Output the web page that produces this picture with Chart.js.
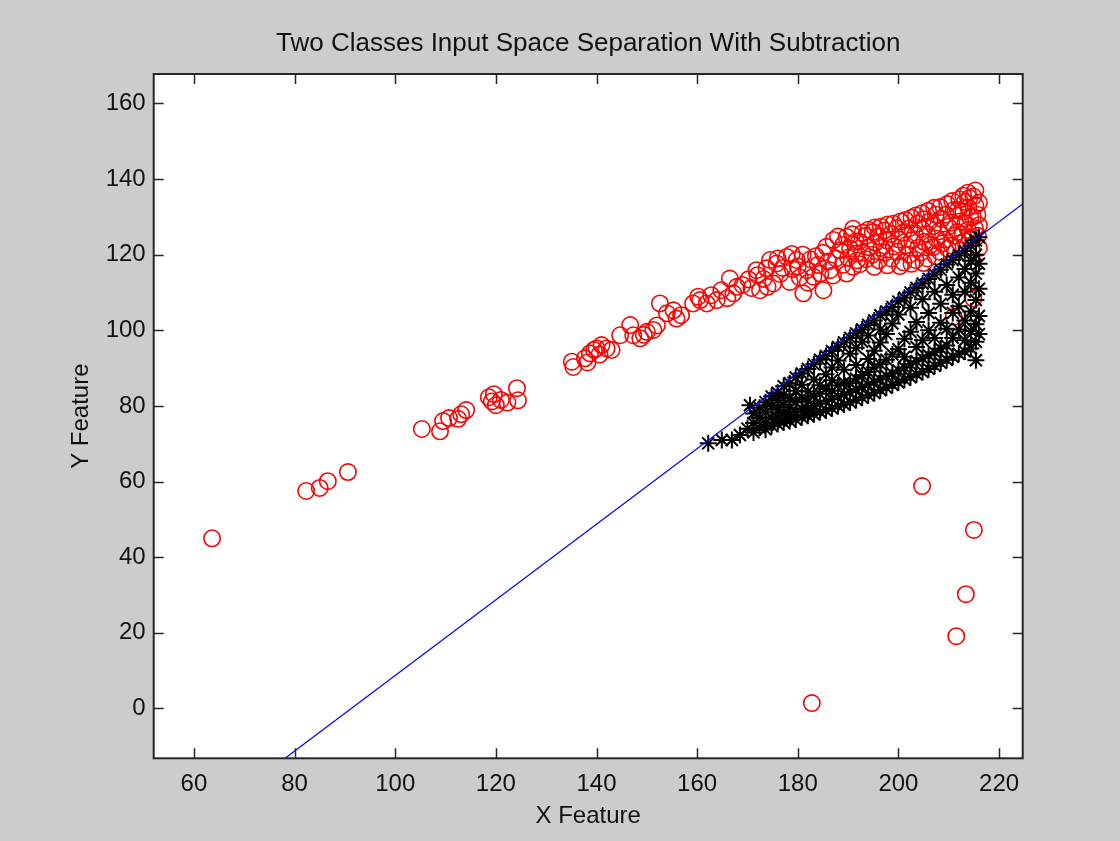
<!DOCTYPE html>
<html>
<head>
<meta charset="utf-8">
<title>Two Classes Input Space Separation With Subtraction</title>
<script src="https://cdn.jsdelivr.net/npm/chart.js@4.4.1/dist/chart.umd.min.js"></script>
<style>
  html, body { margin: 0; padding: 0; background: #cccccc; }
  #wrap { width: 1120px; height: 841px; }
</style>
</head>
<body>
<div id="wrap"><canvas id="plot" width="1120" height="841"></canvas></div>
<script>
// Axis ticks and limits
const xTicks = [60, 80, 100, 120, 140, 160, 180, 200, 220];
const yTicks = [0, 20, 40, 60, 80, 100, 120, 140, 160];
const xLimits = [52, 224.7];
const yLimits = [-13.2, 167.8];

// Separating line (subtraction boundary), endpoints at the axes edges
const boundaryX = [78.1, 224.7];
const boundaryY = [-13.2, 133.4];

// Class 1 samples (red circles), [x, y]
const classOne = [
  [63.6,45.0],[82.3,57.5],[85.0,58.3],[86.6,60.1],[90.6,62.5],
  [105.3,73.9],[108.9,73.3],[109.5,76.0],[110.7,76.8],[112.5,76.6],[113.1,77.8],[114.1,78.9],
  [118.6,82.3],[119.2,81.2],[120.0,80.2],[119.6,83.1],[121.0,81.6],[122.3,80.9],[124.2,84.7],[124.4,81.5],
  [135.1,91.7],[135.4,90.3],[137.7,92.6],[138.2,91.5],[138.7,93.9],[139.5,94.8],[140.0,95.2],[140.6,93.6],
  [141.0,96.1],[142.0,95.2],[143.0,94.8],
  [144.7,98.7],[146.7,101.4],[147.3,98.7],[148.7,97.9],[149.4,98.8],[150.0,99.6],[151.3,100.1],[152.0,101.3],
  [152.6,107.1],[154.0,104.5],[155.3,105.3],[155.9,103.1],[156.8,104.0],
  [159.2,107.1],[160.2,108.9],[160.6,108.0],[161.9,107.1],[162.8,109.3],[163.9,108.0],[164.8,110.6],
  [166.0,108.5],[166.5,113.7],[167.2,109.8],[167.9,111.5],
  [169.0,112.0],[170.2,113.5],[170.8,111.2],[172.0,114.6],[173.8,116.4],[174.0,111.5],[176.0,119.0],
  [177.0,116.5],[178.8,120.2],[180.0,116.9],[181.0,120.0],[182.0,112.6],[183.6,119.6],[184.5,115.0],
  [185.0,120.5],[186.0,118.2],[187.0,114.5],[188.0,124.8],[189.0,122.6],[190.0,119.2],[190.8,125.4],
  [191.8,118.5],
  [171.8,115.9],[172.5,110.6],[173.2,113.6],[174.5,118.6],[175.1,112.4],[175.8,117.7],[176.5,114.9],
  [177.8,119.4],[178.4,112.8],[179.0,116.2],[179.8,118.6],[180.4,114.0],[181.1,109.8],[181.8,115.9],
  [182.5,118.8],[183.1,114.2],[184.0,117.3],[185.1,110.6],
  [185.7,122.1],[186.4,115.9],[187.1,123.9],[187.6,119.0],[188.4,121.2],[188.9,117.3],[189.7,124.7],
  [189.7,115.0],[190.4,121.6],[191.0,126.9],[191.0,116.8],[191.7,120.3],[191.5,123.5],
  [192.3,117.5],[192.8,120.5],[192.2,123.5],[192.9,125.8],
  [193.6,118.8],[194.1,122.0],[193.5,125.0],[194.0,126.6],
  [195.2,116.8],[194.8,120.0],[195.4,123.2],[194.9,126.0],[195.3,127.2],
  [196.1,118.5],[196.6,121.8],[196.0,124.8],[196.5,127.4],
  [197.8,117.2],[197.3,120.5],[197.7,123.8],[197.2,126.4],[197.9,128.0],
  [198.6,119.0],[199.1,122.2],[198.5,125.5],[199.0,128.2],
  [200.3,117.0],[199.8,120.8],[200.2,124.0],[199.7,127.0],[200.4,128.8],
  [201.0,118.0],[201.5,122.5],[200.9,125.8],[201.4,129.2],
  [202.6,117.6],[202.1,120.0],[202.7,123.8],[202.2,127.0],[202.6,129.8],
  [203.4,118.6],[203.9,121.8],[203.3,125.2],[203.8,128.2],[203.5,130.4],
  [205.0,117.8],[204.5,120.6],[205.1,123.4],[204.6,126.8],[205.0,129.4],[204.7,131.0],
  [205.8,119.0],[206.3,122.5],[205.7,125.5],[206.2,128.8],[205.9,131.6],
  [207.4,119.6],[206.9,122.0],[207.5,124.3],[207.0,127.6],[207.4,130.6],[207.1,132.4],
  [208.2,120.8],[208.7,123.0],[208.1,126.2],[208.6,129.5],[208.3,132.6],
  [209.8,121.6],[209.3,124.0],[209.9,127.4],[209.4,130.6],[209.7,133.4],
  [210.6,122.4],[211.1,125.0],[210.5,128.5],[211.0,131.8],[210.7,134.2],
  [212.2,123.0],[211.7,126.0],[212.3,128.8],[211.8,131.8],[212.1,134.6],
  [213.2,123.6],[212.8,125.4],[213.3,128.4],[212.9,131.4],[213.2,134.0],[212.9,135.6],
  [214.2,124.0],[213.8,126.6],[214.3,129.8],[213.9,132.5],[214.1,135.0],[213.8,136.4],
  [214.8,124.6],[215.2,127.0],[214.8,130.0],[215.3,133.0],[214.9,135.4],[215.3,137.0],
  [215.8,125.0],[216.0,127.8],[215.7,130.6],[216.0,133.8],
  [216.0,121.8],[214.6,121.2],
  [211.0,103.6],[214.9,108.4],
  [182.8,1.4],[204.7,58.8],[211.5,19.1],[213.4,30.2],[215.0,47.2]
];

// Class 2 samples (black stars), [x, y]
const classTwo = [
  [162.2,70.1],[164.9,71.0],[166.9,71.0],[168.5,72.3],[170.5,80.2],[170.0,74.0],
  [171.2,73.0],[171.2,75.5],[171.2,78.0],
  [172.4,74.2],[172.4,76.8],[172.4,79.5],
  [173.6,73.8],[173.6,75.6],[173.6,78.3],[173.6,81.0],
  [174.8,74.8],[174.8,77.0],[174.8,80.0],[174.8,82.5],
  [176.0,75.2],[176.0,76.9],[176.0,79.0],[176.0,81.5],[176.0,83.5],
  [177.2,75.6],[177.2,78.0],[177.2,80.3],[177.2,83.0],[177.2,85.2],
  [178.4,76.0],[178.4,77.6],[178.4,79.6],[178.4,82.0],[178.4,86.0],
  [179.6,76.4],[179.6,78.4],[179.6,81.0],[179.6,84.0],[179.6,87.5],
  [180.8,77.0],[180.8,79.2],[180.8,82.2],[180.8,85.6],[180.8,88.6],
  [182.0,77.4],[182.0,79.0],[182.0,81.2],[182.0,83.8],[182.0,89.8],
  [183.2,77.8],[183.2,80.0],[183.2,82.6],[183.2,87.0],[183.2,91.0],
  [184.4,78.4],[184.4,80.6],[184.4,83.2],[184.4,85.5],[184.4,92.2],
  [185.6,78.8],[185.6,81.4],[185.6,84.5],[185.6,88.4],[185.6,93.2],
  [186.8,79.4],[186.8,81.8],[186.8,84.0],[186.8,86.8],[186.8,90.2],[186.8,94.5],
  [188.0,80.0],[188.0,82.6],[188.0,85.4],[188.0,92.0],[188.0,95.6],
  [189.2,80.4],[189.2,83.0],[189.2,86.2],[189.2,89.6],[189.2,96.8],
  [190.4,81.0],[190.4,83.6],[190.4,86.0],[190.4,93.8],[190.4,98.0],
  [191.6,81.6],[191.6,84.4],[191.6,87.2],[191.6,90.8],[191.6,95.4],[191.6,99.2],
  [192.8,82.2],[192.8,85.0],[192.8,88.2],[192.8,97.0],[192.8,100.2],
  [194.0,82.8],[194.0,85.6],[194.0,89.0],[194.0,92.4],[194.0,98.6],[194.0,101.4],
  [195.2,83.4],[195.2,86.4],[195.2,90.2],[195.2,94.6],[195.2,102.6],
  [196.4,84.2],[196.4,87.0],[196.4,91.0],[196.4,96.8],[196.4,100.2],[196.4,104.0],
  [197.6,84.8],[197.6,88.0],[197.6,92.2],[197.6,99.0],[197.6,105.0],
  [198.8,85.6],[198.8,88.6],[198.8,93.6],[198.8,101.8],[198.8,106.2],
  [200.0,86.2],[200.0,89.4],[200.0,95.0],[200.0,104.2],[200.0,107.6],
  [201.2,87.0],[201.2,90.2],[201.2,93.0],[201.2,97.8],[201.2,108.6],
  [202.4,87.6],[202.4,91.0],[202.4,99.6],[202.4,106.0],[202.4,110.0],
  [203.6,88.4],[203.6,91.8],[203.6,95.6],[203.6,102.2],[203.6,111.2],
  [204.8,89.0],[204.8,92.6],[204.8,97.4],[204.8,108.2],[204.8,112.4],
  [206.0,89.8],[206.0,93.4],[206.0,100.0],[206.0,104.6],[206.0,113.6],
  [207.2,90.6],[207.2,94.2],[207.2,98.0],[207.2,110.2],[207.2,114.8],
  [208.4,91.4],[208.4,95.2],[208.4,102.0],[208.4,107.0],[208.4,116.0],
  [209.6,92.2],[209.6,96.0],[209.6,100.4],[209.6,112.0],[209.6,117.4],
  [210.8,93.0],[210.8,98.0],[210.8,104.6],[210.8,109.4],[210.8,118.6],
  [212.0,93.8],[212.0,100.2],[212.0,106.4],[212.0,114.0],[212.0,119.8],
  [213.2,94.4],[213.2,97.4],[213.2,102.6],[213.2,110.2],[213.2,116.2],[213.2,121.0],
  [214.4,95.2],[214.4,99.8],[214.4,105.0],[214.4,112.6],[214.4,118.4],[214.4,122.4],
  [215.4,92.1],[215.4,97.0],[215.4,101.6],[215.4,108.0],[215.4,115.0],[215.4,120.0],[215.4,123.8],
  [216.0,99.0],[216.0,103.8],[216.0,111.0],[216.0,117.6],[216.0,124.6]
];

const FONT = "'Liberation Sans', Arial, Helvetica, sans-serif";
const TEXT = '#111111';
const AXIS = '#262626';

const toXY = pts => pts.map(p => ({ x: p[0], y: p[1] }));
const boundary = boundaryX.map((x, i) => ({ x, y: boundaryY[i] }));

// Gray figure background with a white axes area
const backdrop = {
  id: 'backdrop',
  beforeDraw(chart) {
    const { ctx, chartArea: a } = chart;
    ctx.save();
    ctx.fillStyle = '#cccccc';
    ctx.fillRect(0, 0, chart.width, chart.height);
    ctx.fillStyle = '#ffffff';
    ctx.fillRect(a.left, a.top, a.right - a.left, a.bottom - a.top);
    ctx.restore();
  }
};

// Boxed axes with inward tick marks on all four sides
const axesBox = {
  id: 'axesBox',
  afterDatasetsDraw(chart) {
    const { ctx, chartArea: a, scales } = chart;
    const len = 10;
    ctx.save();
    ctx.strokeStyle = AXIS;
    ctx.lineWidth = 1.5;
    ctx.beginPath();
    scales.x.ticks.forEach(t => {
      const px = Math.round(scales.x.getPixelForValue(t.value)) + 0.5;
      ctx.moveTo(px, a.bottom); ctx.lineTo(px, a.bottom - len);
      ctx.moveTo(px, a.top); ctx.lineTo(px, a.top + len);
    });
    scales.y.ticks.forEach(t => {
      const py = Math.round(scales.y.getPixelForValue(t.value)) + 0.5;
      ctx.moveTo(a.left, py); ctx.lineTo(a.left + len, py);
      ctx.moveTo(a.right, py); ctx.lineTo(a.right - len, py);
    });
    ctx.stroke();
    ctx.lineWidth = 2;
    ctx.strokeRect(a.left, a.top, a.right - a.left, a.bottom - a.top);
    ctx.restore();
  }
};

new Chart(document.getElementById('plot'), {
  type: 'scatter',
  data: {
    datasets: [
      {
        label: 'Class 1',
        data: toXY(classOne),
        pointStyle: 'circle',
        pointRadius: 8.2,
        pointBorderWidth: 1.6,
        pointBorderColor: '#ff0000',
        pointBackgroundColor: 'rgba(0,0,0,0)',
        order: 2
      },
      {
        label: 'Class 2',
        data: toXY(classTwo),
        pointStyle: 'star',
        pointRadius: 8.5,
        pointBorderWidth: 2,
        pointBorderColor: '#000000',
        pointBackgroundColor: '#000000',
        order: 1
      },
      {
        label: 'Boundary',
        data: boundary,
        showLine: true,
        borderColor: '#0000ff',
        borderWidth: 1.2,
        pointRadius: 0,
        fill: false,
        order: 0
      }
    ]
  },
  options: {
    responsive: false,
    animation: false,
    events: [],
    layout: { padding: { left: 0, top: 0, right: 97.3, bottom: 0 } },
    plugins: {
      legend: { display: false },
      tooltip: { enabled: false },
      title: {
        display: true,
        fullSize: false,
        text: 'Two Classes Input Space Separation With Subtraction',
        color: TEXT,
        font: { family: FONT, size: 26, weight: 'normal' },
        padding: { top: 28.4, bottom: 14.4 }
      }
    },
    scales: {
      x: {
        type: 'linear',
        min: xLimits[0],
        max: xLimits[1],
        grid: { display: false, drawTicks: false },
        border: { display: false },
        afterBuildTicks: s => { s.ticks = xTicks.map(v => ({ value: v })); },
        afterFit: s => { s.height = 82.7; s.paddingLeft = 0; s.paddingRight = 0; },
        ticks: {
          color: TEXT,
          font: { family: FONT, size: 24 },
          padding: 12,
          maxRotation: 0,
          autoSkip: false
        },
        title: {
          display: true,
          text: 'X Feature',
          color: TEXT,
          font: { family: FONT, size: 24 },
          padding: { top: 0, bottom: 10.6 }
        }
      },
      y: {
        type: 'linear',
        min: yLimits[0],
        max: yLimits[1],
        grid: { display: false, drawTicks: false },
        border: { display: false },
        afterBuildTicks: s => { s.ticks = yTicks.map(v => ({ value: v })); },
        afterFit: s => { s.width = 153.7; },
        ticks: {
          color: TEXT,
          font: { family: FONT, size: 24 },
          padding: 8,
          autoSkip: false
        },
        title: {
          display: true,
          text: 'Y Feature',
          color: TEXT,
          font: { family: FONT, size: 24 },
          padding: { top: 67, bottom: 0 }
        }
      }
    }
  },
  plugins: [backdrop, axesBox]
});
</script>
</body>
</html>
